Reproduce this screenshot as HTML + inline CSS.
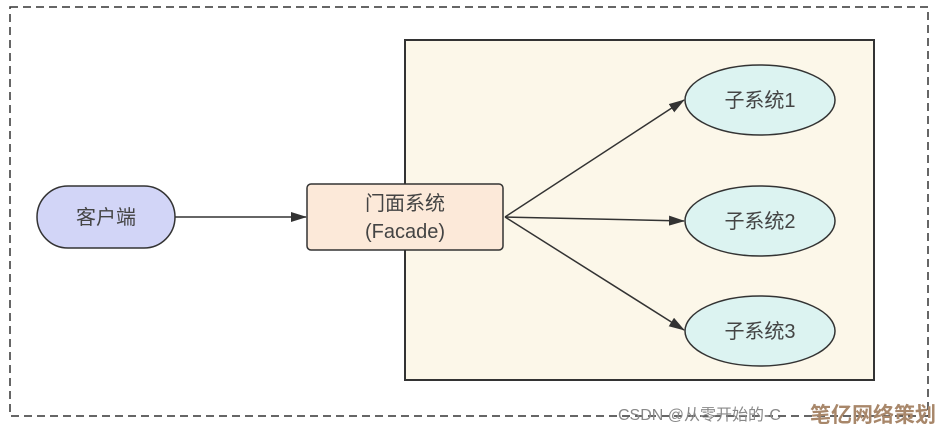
<!DOCTYPE html><html><head><style>body{margin:0;background:#fff}</style></head><body>
<svg width="941" height="432" xmlns="http://www.w3.org/2000/svg" font-family="Liberation Sans, Noto Sans CJK SC, sans-serif">
<defs><marker id="b" markerWidth="16" markerHeight="10" refX="15" refY="5" orient="auto" markerUnits="userSpaceOnUse"><path d="M0,0 L16,5 L0,10 Z" fill="#333"/></marker></defs>
<rect x="10" y="7" width="918" height="409" fill="none" stroke="#333" stroke-width="1.5" stroke-dasharray="8,5"/>
<rect x="405" y="40" width="469" height="340" fill="#fcf7e9" stroke="#333" stroke-width="2"/>
<rect x="37" y="186" width="138" height="62" rx="31" fill="#d2d5f7" stroke="#333" stroke-width="1.5"/>
<text x="106" y="224" font-size="20" fill="#444" text-anchor="middle">客户端</text>
<line x1="175" y1="217" x2="306" y2="217" stroke="#333" stroke-width="1.5" marker-end="url(#b)"/>
<rect x="307" y="184" width="196" height="66" rx="4" fill="#fce9d9" stroke="#333" stroke-width="1.5"/>
<text x="405" y="210" font-size="20" fill="#444" text-anchor="middle">门面系统</text>
<text x="405" y="238" font-size="20" fill="#444" text-anchor="middle">(Facade)</text>
<g stroke="#333" stroke-width="1.5">
<line x1="505" y1="217" x2="684" y2="100" marker-end="url(#b)"/>
<line x1="505" y1="217" x2="684" y2="221" marker-end="url(#b)"/>
<line x1="505" y1="217" x2="684" y2="330" marker-end="url(#b)"/>
</g>
<g fill="#dcf3f1" stroke="#333" stroke-width="1.5">
<ellipse cx="760" cy="100" rx="75" ry="35"/><ellipse cx="760" cy="221" rx="75" ry="35"/><ellipse cx="760" cy="331" rx="75" ry="35"/></g>
<g font-size="20" fill="#444" text-anchor="middle">
<text x="760" y="107">子系统1</text><text x="760" y="228">子系统2</text><text x="760" y="338">子系统3</text></g>
<text x="618" y="420" font-size="16" fill="#888">CSDN @从零开始的-C</text>
<text x="810" y="422" font-size="21" font-weight="bold" fill="#a8876a">笔亿网络策划</text>
</svg></body></html>
